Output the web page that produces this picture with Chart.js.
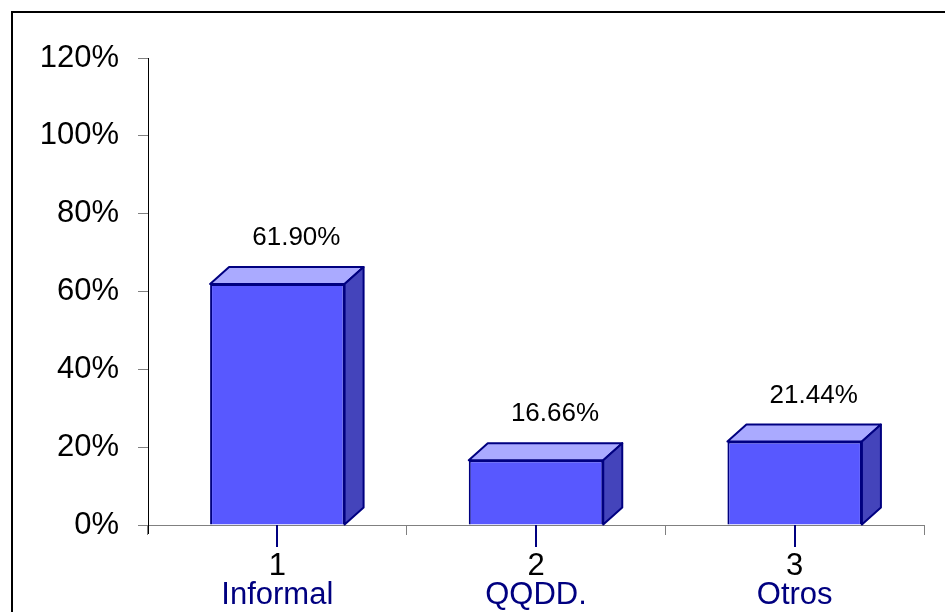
<!DOCTYPE html>
<html>
<head>
<meta charset="utf-8">
<title>Informal / QQDD. / Otros</title>
<script src="https://cdn.jsdelivr.net/npm/chart.js@4/dist/chart.umd.min.js"></script>
<style>
  html, body { margin: 0; padding: 0; background: #ffffff; }
  #wrap { position: relative; width: 945px; height: 612px; }
  canvas { display: block; }
</style>
</head>
<body>
<div id="wrap"><canvas id="chart" width="945" height="612" style="width:945px;height:612px"></canvas></div>
<script>
// Category numbers, category names and the share of each group (percent)
const categoryNumbers = ['1', '2', '3'];
const categoryNames = ['Informal', 'QQDD.', 'Otros'];
const shares = [61.90, 16.66, 21.44];
const valueLabels = ['61.90%', '16.66%', '21.44%'];
const yTicks = [0, 20, 40, 60, 80, 100, 120];

const FONT = '"Liberation Sans", Arial, Helvetica, sans-serif';
const NAVY = '#000080';
const FRONT = '#5858FF';
const TOP = '#AAAAFF';
const SIDE = '#4444BB';
const DEPTH_X = 19;
const DEPTH_Y = 17;

// Outer frame (top and left edges)
const framePlugin = {
  id: 'frame',
  beforeDraw(chart) {
    const ctx = chart.ctx;
    ctx.save();
    ctx.strokeStyle = '#000000';
    ctx.lineWidth = 2;
    ctx.beginPath();
    ctx.moveTo(12, chart.height);
    ctx.lineTo(12, 12);
    ctx.lineTo(chart.width, 12);
    ctx.stroke();
    ctx.restore();
  }
};

// Top and side faces of each bar, plus its value label
const boxPlugin = {
  id: 'box3d',
  afterDatasetsDraw(chart) {
    const ctx = chart.ctx;
    const meta = chart.getDatasetMeta(0);
    ctx.save();
    ctx.lineJoin = 'round';
    meta.data.forEach((bar, i) => {
      const p = bar.getProps(['x', 'y', 'base', 'width'], true);
      const L = p.x - p.width / 2;
      const R = p.x + p.width / 2;
      const T = p.y;
      const B = p.base;
      ctx.strokeStyle = NAVY;
      ctx.lineWidth = 2;
      // top face
      ctx.beginPath();
      ctx.moveTo(L, T);
      ctx.lineTo(L + DEPTH_X, T - DEPTH_Y);
      ctx.lineTo(R + DEPTH_X, T - DEPTH_Y);
      ctx.lineTo(R, T);
      ctx.closePath();
      ctx.fillStyle = TOP;
      ctx.fill();
      ctx.stroke();
      // side face
      ctx.beginPath();
      ctx.moveTo(R, T);
      ctx.lineTo(R + DEPTH_X, T - DEPTH_Y);
      ctx.lineTo(R + DEPTH_X, B - DEPTH_Y);
      ctx.lineTo(R, B);
      ctx.closePath();
      ctx.fillStyle = SIDE;
      ctx.fill();
      ctx.stroke();
      // value label
      ctx.fillStyle = '#000000';
      ctx.font = '26px ' + FONT;
      ctx.textAlign = 'center';
      ctx.textBaseline = 'middle';
      ctx.fillText(valueLabels[i], p.x + DEPTH_X, T - 46);
    });
    ctx.restore();
  }
};

// Axis details: y-axis stub below zero and navy ticks under each category
const axisPlugin = {
  id: 'axisDetails',
  afterDraw(chart) {
    const ctx = chart.ctx;
    const xs = chart.scales.x;
    const area = chart.chartArea;
    ctx.save();
    ctx.strokeStyle = '#000000';
    ctx.lineWidth = 1;
    ctx.beginPath();
    ctx.moveTo(area.left + 0.5, area.bottom);
    ctx.lineTo(area.left + 0.5, area.bottom + 9);
    ctx.stroke();
    ctx.strokeStyle = NAVY;
    ctx.lineWidth = 2;
    categoryNumbers.forEach((_, i) => {
      const x = Math.round(xs.getPixelForTick(i));
      ctx.beginPath();
      ctx.moveTo(x, area.bottom);
      ctx.lineTo(x, area.bottom + 22);
      ctx.stroke();
    });
    ctx.restore();
  }
};

new Chart(document.getElementById('chart'), {
  type: 'bar',
  data: {
    labels: categoryNumbers,
    datasets: [{
      data: shares,
      backgroundColor: FRONT,
      borderColor: NAVY,
      borderWidth: 2,
      categoryPercentage: 1,
      barPercentage: 0.52
    }]
  },
  options: {
    responsive: false,
    devicePixelRatio: 1,
    animation: false,
    layout: { padding: { top: 58, right: 21, left: 0, bottom: 0 } },
    plugins: {
      legend: { display: false },
      tooltip: { enabled: false }
    },
    scales: {
      y: {
        min: 0,
        max: 120,
        afterBuildTicks(scale) {
          scale.ticks = yTicks.map(v => ({ value: v }));
        },
        afterFit(scale) { scale.width = 148; },
        ticks: {
          padding: 19,
          color: '#000000',
          font: { family: FONT, size: 31 },
          callback: v => v + '%'
        },
        grid: {
          drawOnChartArea: false,
          drawTicks: true,
          tickLength: 10,
          tickColor: '#808080',
          tickWidth: 1
        },
        border: { display: true, color: '#000000', width: 1 }
      },
      x: {
        weight: 1,
        afterFit(scale) { scale.height = 52; },
        ticks: {
          padding: 13,
          color: '#000000',
          font: { family: FONT, size: 31 }
        },
        grid: {
          offset: true,
          drawOnChartArea: false,
          drawTicks: true,
          tickLength: 10,
          tickColor: '#808080',
          tickWidth: 1
        },
        border: { display: true, color: '#808080', width: 1 }
      },
      x2: {
        type: 'category',
        position: 'bottom',
        weight: 2,
        labels: categoryNames,
        afterFit(scale) { scale.height = 35; },
        ticks: {
          padding: 0,
          color: NAVY,
          font: { family: FONT, size: 31 }
        },
        grid: { display: false, drawTicks: false },
        border: { display: false }
      }
    }
  },
  plugins: [framePlugin, boxPlugin, axisPlugin]
});
</script>
</body>
</html>
